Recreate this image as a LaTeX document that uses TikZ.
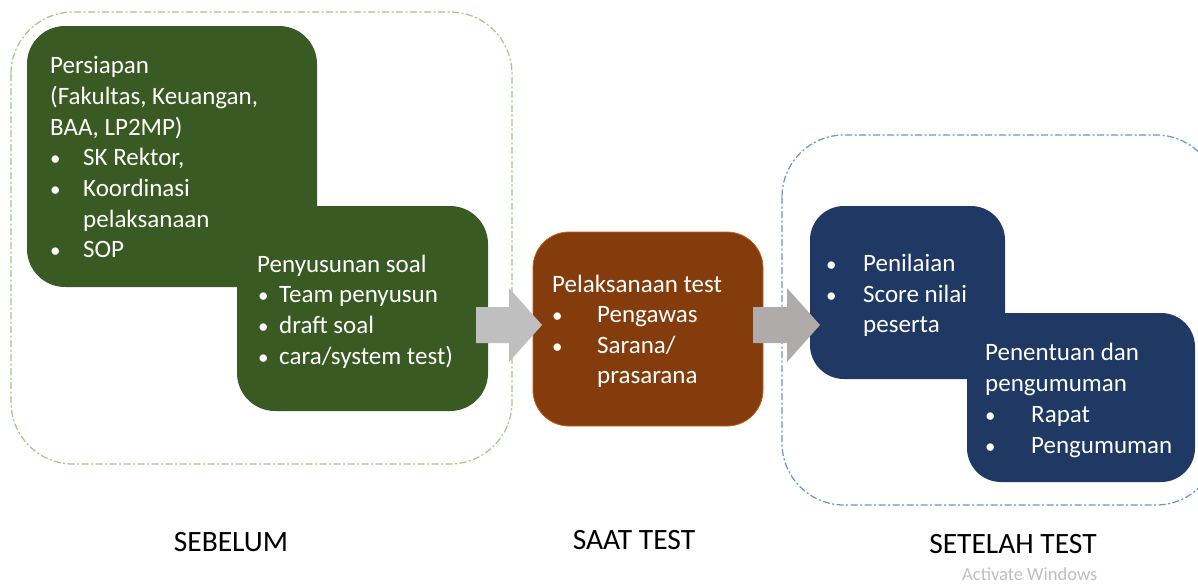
\documentclass[tikz,border=0pt]{standalone}
\usepackage{fontspec}
\setmainfont{Carlito}
\usetikzlibrary{calc}
\definecolor{grn}{HTML}{3A5A23}
\definecolor{org}{HTML}{843C0C}
\definecolor{orgedge}{HTML}{C0601E}
\definecolor{blu}{HTML}{203864}
\definecolor{grndash}{HTML}{9CCB7E}
\definecolor{bludash}{HTML}{6197CF}
\definecolor{arrA}{HTML}{BFBFBF}
\definecolor{arrB}{HTML}{AEABAA}
\tikzset{
  x=1pt, y=-1pt,
  outerbox/.style={line width=1.2pt, dash pattern=on 7pt off 2.5pt on 2pt off 2.5pt, rounded corners=62pt},
  card/.style={rounded corners=38pt},
  txt/.style={anchor=base west, inner sep=0pt, text=white, font=\fontsize{25}{30}\selectfont},
  bul/.style={anchor=base west, inner sep=0pt, text=white, font=\fontsize{21}{30}\selectfont},
  lbl/.style={anchor=base, inner sep=0pt, text=black, font=\fontsize{29.5}{34}\selectfont}
}
\begin{document}
\begin{tikzpicture}
\useasboundingbox (0,0) rectangle (1198,584);
\fill[white] (0,0) rectangle (1198,584);
\begin{scope}
\clip (0,0) rectangle (1198,584);
% outer dashed containers
\draw[outerbox, grndash] (11,12) rectangle (512,464);
\draw[outerbox, bludash] (782,135) rectangle (1218,505);
\end{scope}

% SEBELUM cards
\fill[card, grn] (27,26) rectangle (317,287);
\fill[card, grn] (237,206) rectangle (488,411);
\node[txt] (p1) at (50,73) {Persiapan};
\node[txt] (p2) at (50,104) {(Fakultas, Keuangan,};
\node[txt] (p3) at (50,135) {BAA, LP2MP)};
\node[bul] (b1) at (50,165) {•};
\node[txt] (p4) at (83,165) {SK Rektor,};
\node[bul] (b2) at (50,196) {•};
\node[txt] (p5) at (83,196) {Koordinasi};
\node[txt] (p6) at (83,227) {pelaksanaan};
\node[bul] (b3) at (50,257) {•};
\node[txt] (p7) at (83,257) {SOP};

\node[txt] (q1) at (257,272) {Penyusunan soal};
\node[bul] (c1) at (258,302) {•};
\node[txt] (q2) at (279,302) {Team penyusun};
\node[bul] (c2) at (258,333) {•};
\node[txt] (q3) at (279,333) {draft soal};
\node[bul] (c3) at (258,364) {•};
\node[txt] (q4) at (279,364) {cara/system test)};

% SAAT TEST card
\filldraw[org, draw=orgedge, line width=0.8pt, rounded corners=36pt] (533,232) rectangle (763,426);
\node[txt] (s1) at (552,292) {Pelaksanaan test};
\node[bul] (d1) at (552,322) {•};
\node[txt] (s2) at (597,322) {Pengawas};
\node[bul] (d2) at (552,353) {•};
\node[txt] (s3) at (597,353) {Sarana/};
\node[txt] (s4) at (597,383) {prasarana};

% SETELAH TEST cards
\fill[blu, rounded corners=34pt] (810,206) rectangle (1005,379);
\fill[blu, rounded corners=34pt] (967,313) rectangle (1195,482);
\node[bul] (e0) at (826,271) {•};
\node[txt] (t1) at (863,271) {Penilaian};
\node[bul] (e1) at (826,302) {•};
\node[txt] (t2) at (863,302) {Score nilai};
\node[txt] (t3) at (863,332) {peserta};
\node[txt] (u1) at (985,360) {Penentuan dan};
\node[txt] (u2) at (985,391) {pengumuman};
\node[bul] (f1) at (985,422) {•};
\node[txt] (u3) at (1031,422) {Rapat};
\node[bul] (f2) at (985,453) {•};
\node[txt] (u4) at (1031,453) {Pengumuman};

% block arrows
\fill[arrA] (476,307) -- (509,307) -- (509,288) -- (542,325) -- (509,362) -- (509,343) -- (476,343) -- cycle;
\fill[arrB] (753,307) -- (787,307) -- (787,288) -- (820,325) -- (787,362) -- (787,343) -- (753,343) -- cycle;

% labels
\node[lbl] (l1) at (231,551) {SEBELUM};
\node[lbl] (l2) at (634,549) {SAAT TEST};
\node[lbl] (l3) at (1013,553) {SETELAH TEST};
\node[anchor=base west, inner sep=0pt, text=black!25, font=\fontsize{18.5}{22}\selectfont] (aw) at (962,580) {Activate Windows};
\end{tikzpicture}
\end{document}
